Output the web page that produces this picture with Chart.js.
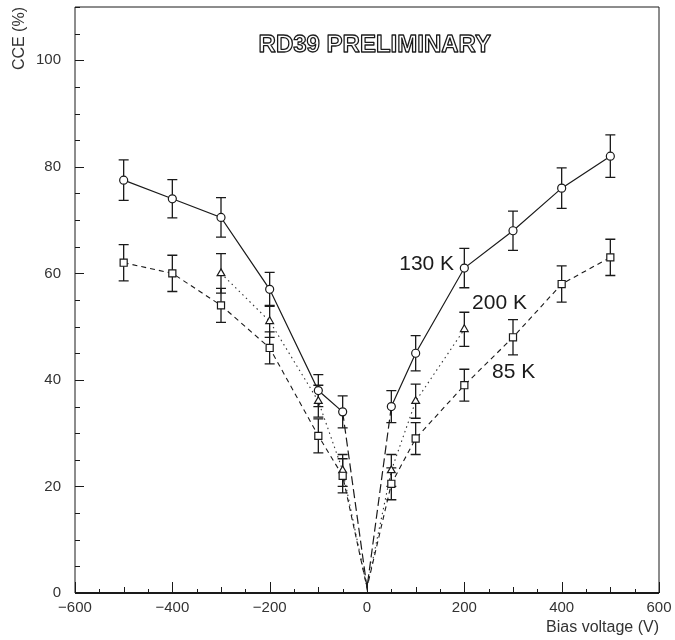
<!DOCTYPE html>
<html>
<head>
<meta charset="utf-8">
<script src="https://cdn.jsdelivr.net/npm/chart.js@4/dist/chart.umd.min.js"></script>
<style>
  html, body { margin: 0; padding: 0; background: #fff; }
  #wrap { width: 675px; height: 640px; }
</style>
</head>
<body>
<div id="wrap"><canvas id="cce"></canvas></div>
<script>
// Bias voltage (V) for each temperature series
const bias130 = [-500, -400, -300, -200, -100, -50, 0, 50, 100, 200, 300, 400, 500];
const bias85  = [-500, -400, -300, -200, -100, -50, 0, 50, 100, 200, 300, 400, 500];
const bias200 = [-300, -200, -100, -50, 0, 50, 100, 200];

// Charge collection efficiency (%) and its uncertainty
const cce130 = [77.5, 74, 70.5, 57, 38, 34, 1, 35, 45, 61, 68, 76, 82];
const err130 = [3.8, 3.6, 3.7, 3.2, 3, 3, 0, 3, 3.3, 3.7, 3.7, 3.8, 4];
const cce85  = [62, 60, 54, 46, 29.5, 22, 1, 20.5, 29, 39, 48, 58, 63];
const err85  = [3.4, 3.4, 3.2, 3, 3.2, 3.2, 0, 3, 3, 3, 3.3, 3.4, 3.4];
const cce200 = [60, 51, 36, 23, 1, 23, 36, 49.5];
const err200 = [3.7, 3, 3, 3, 0, 3, 3.2, 3.2];

const xTicks = [-600, -400, -200, 0, 200, 400, 600];
const yTicks = [0, 20, 40, 60, 80, 100];

const seriesNames = ['130 K', '85 K', '200 K'];

const toPoints = (xs, ys) => xs.map((v, i) => ({ x: v, y: ys[i] }));
const FONT = '"Liberation Sans", Arial, sans-serif';
const INK = '#1a1a1a';

const hideAtOrigin = r => ctx => (ctx.raw && ctx.raw.x === 0 ? 0 : r);
const touchesOrigin = seg => seg.p0.parsed.x === 0 || seg.p1.parsed.x === 0;

// Vertical error bars with caps, drawn beneath lines and markers
const errorBars = {
  id: 'errorBars',
  beforeDatasetsDraw(chart) {
    const { ctx, scales: { x, y } } = chart;
    ctx.save();
    ctx.strokeStyle = INK;
    ctx.lineWidth = 1.3;
    chart.data.datasets.forEach(ds => {
      ds.data.forEach((p, i) => {
        const e = ds.errors[i];
        if (!e) return;
        const px = x.getPixelForValue(p.x);
        const t = y.getPixelForValue(p.y + e);
        const b = y.getPixelForValue(p.y - e);
        ctx.beginPath();
        ctx.moveTo(px, t); ctx.lineTo(px, b);
        ctx.moveTo(px - 5, t); ctx.lineTo(px + 5, t);
        ctx.moveTo(px - 5, b); ctx.lineTo(px + 5, b);
        ctx.stroke();
      });
    });
    ctx.restore();
  }
};

// Frame and inward-pointing tick marks
const frameTicks = {
  id: 'frameTicks',
  afterDraw(chart) {
    const { ctx, chartArea: a, scales: { x, y } } = chart;
    ctx.save();
    ctx.strokeStyle = INK;
    ctx.lineWidth = 1;
    ctx.beginPath();
    ctx.moveTo(a.left, a.top); ctx.lineTo(a.right, a.top);
    ctx.moveTo(a.right, a.top); ctx.lineTo(a.right, a.bottom);
    ctx.moveTo(a.left, a.top); ctx.lineTo(a.left, a.bottom);
    ctx.stroke();
    ctx.lineWidth = 2;
    ctx.beginPath();
    ctx.moveTo(a.left, a.bottom); ctx.lineTo(a.right, a.bottom);
    ctx.stroke();

    ctx.lineWidth = 1;
    ctx.beginPath();
    for (let v = y.min; v <= y.max; v += 5) {
      const py = Math.round(y.getPixelForValue(v)) + 0.5;
      const len = v % 20 === 0 ? 9 : 5;
      ctx.moveTo(a.left, py); ctx.lineTo(a.left + len, py);
    }
    for (let v = x.min; v <= x.max; v += 50) {
      const px = Math.round(x.getPixelForValue(v)) + 0.5;
      const len = v % 200 === 0 ? 11 : (v % 100 === 0 ? 6 : 4);
      ctx.moveTo(px, a.bottom); ctx.lineTo(px, a.bottom - len);
    }
    ctx.stroke();
    ctx.restore();
  }
};

// Title and series labels placed in data coordinates
const annotations = {
  id: 'annotations',
  afterDatasetsDraw(chart) {
    const { ctx, scales: { x, y } } = chart;
    ctx.save();
    ctx.fillStyle = INK;
    ctx.textBaseline = 'middle';
    ctx.font = '21px ' + FONT;
    ctx.textAlign = 'right';
    ctx.fillText(seriesNames[0], x.getPixelForValue(179), y.getPixelForValue(61.7));
    ctx.textAlign = 'left';
    ctx.fillText(seriesNames[2], x.getPixelForValue(216), y.getPixelForValue(54.4));
    ctx.fillText(seriesNames[1], x.getPixelForValue(257), y.getPixelForValue(41.4));

    ctx.font = 'bold 24px ' + FONT;
    ctx.textAlign = 'center';
    ctx.lineJoin = 'round';
    ctx.lineWidth = 1.3;
    ctx.strokeStyle = INK;
    ctx.fillStyle = '#fff';
    const tx = x.getPixelForValue(16), ty = y.getPixelForValue(102.8);
    ctx.fillText('RD39 PRELIMINARY', tx, ty);
    ctx.strokeText('RD39 PRELIMINARY', tx, ty);
    ctx.restore();
  }
};

new Chart(document.getElementById('cce'), {
  type: 'line',
  data: {
    datasets: [
      {
        label: seriesNames[0],
        data: toPoints(bias130, cce130),
        errors: err130,
        borderColor: INK,
        borderWidth: 1.2,
        pointStyle: 'circle',
        pointRadius: hideAtOrigin(4),
        pointBorderColor: INK,
        pointBackgroundColor: '#fff',
        pointBorderWidth: 1.2,
        segment: { borderDash: s => (touchesOrigin(s) ? [9, 4] : undefined) }
      },
      {
        label: seriesNames[1],
        data: toPoints(bias85, cce85),
        errors: err85,
        borderColor: INK,
        borderWidth: 1.1,
        borderDash: [5, 4],
        pointStyle: 'rect',
        pointRadius: hideAtOrigin(5),
        pointBorderColor: INK,
        pointBackgroundColor: '#fff',
        pointBorderWidth: 1.2
      },
      {
        label: seriesNames[2],
        data: toPoints(bias200, cce200),
        errors: err200,
        borderColor: '#333',
        borderWidth: 1.1,
        borderDash: [1.5, 3.5],
        pointStyle: 'triangle',
        pointRadius: hideAtOrigin(4.5),
        pointBorderColor: INK,
        pointBackgroundColor: '#fff',
        pointBorderWidth: 1.2
      }
    ]
  },
  options: {
    responsive: true,
    maintainAspectRatio: false,
    animation: false,
    devicePixelRatio: 1,
    layout: { padding: { left: 0, right: 16, top: 7, bottom: 0 } },
    plugins: { legend: { display: false }, tooltip: { enabled: false } },
    scales: {
      x: {
        type: 'linear',
        min: -600,
        max: 600,
        afterBuildTicks: s => { s.ticks = xTicks.map(v => ({ value: v })); },
        afterFit: s => { s.height = 47; s.paddingLeft = 0; s.paddingRight = 0; },
        ticks: {
          padding: 6,
          color: '#333',
          font: { family: FONT, size: 15 },
          callback: v => String(v).replace('-', '\u2212')
        },
        grid: { display: false, drawTicks: false },
        border: { display: false },
        title: {
          display: true,
          text: 'Bias voltage (V)',
          align: 'end',
          color: '#333',
          font: { family: FONT, size: 16 },
          padding: { top: 0, bottom: 3 }
        }
      },
      y: {
        type: 'linear',
        min: 0,
        max: 110,
        afterBuildTicks: s => { s.ticks = yTicks.map(v => ({ value: v })); },
        afterFit: s => { s.width = 75; s.paddingTop = 0; s.paddingBottom = 0; },
        ticks: {
          padding: 14,
          color: '#333',
          font: { family: FONT, size: 15 }
        },
        grid: { display: false, drawTicks: false },
        border: { display: false },
        title: {
          display: true,
          text: 'CCE (%)',
          align: 'end',
          color: '#333',
          font: { family: FONT, size: 16 },
          padding: { top: 10, bottom: 0 }
        }
      }
    }
  },
  plugins: [errorBars, frameTicks, annotations]
});
</script>
</body>
</html>
